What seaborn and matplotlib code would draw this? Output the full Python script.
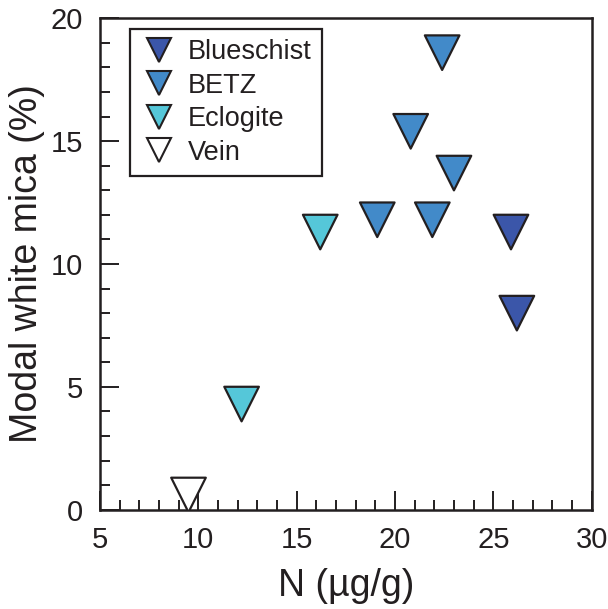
import pandas as pd
import numpy as np
import matplotlib
matplotlib.use('Agg')
import matplotlib.pyplot as plt
import seaborn as sns
from matplotlib.lines import Line2D
from matplotlib.ticker import MultipleLocator

# values
rock_type = ['Blueschist', 'Blueschist', 'BETZ', 'BETZ', 'BETZ', 'BETZ', 'BETZ',
             'Eclogite', 'Eclogite', 'Vein']
nitrogen = [25.9, 26.2, 22.4, 20.8, 23.0, 19.1, 21.9, 16.2, 12.2, 9.5]
white_mica = [11.3, 8.0, 18.6, 15.4, 13.7, 11.8, 11.8, 11.3, 4.3, 0.6]

groups = ['Blueschist', 'BETZ', 'Eclogite', 'Vein']
colors = {'Blueschist': '#3B56A9', 'BETZ': '#428AC9', 'Eclogite': '#55C7D9', 'Vein': '#FFFFFF'}

df = pd.DataFrame({'rock': rock_type, 'N': nitrogen, 'mica': white_mica})

sns.set_theme(style='ticks')
plt.rcParams['font.family'] = ['Liberation Sans', 'DejaVu Sans']
ink = '#231F20'

fig = plt.figure(figsize=(6.08, 6.09), dpi=100)
ax = fig.add_axes([0.1645, 0.163, 0.8085, 0.807])

sns.scatterplot(data=df, x='N', y='mica', hue='rock', hue_order=groups, palette=colors,
                marker='v', s=620, edgecolor=ink, linewidth=1.6, legend=False, ax=ax, zorder=3)

ax.set_xlim(5, 30)
ax.set_ylim(0, 20)
ax.xaxis.set_major_locator(MultipleLocator(5))
ax.xaxis.set_minor_locator(MultipleLocator(1))
ax.yaxis.set_major_locator(MultipleLocator(5))
ax.yaxis.set_minor_locator(MultipleLocator(1))
ax.tick_params(which='both', direction='in', color=ink, width=1.4, top=False, right=False)
ax.tick_params(which='major', length=14, labelsize=21, pad=12, labelcolor=ink)
ax.tick_params(which='minor', length=7)
for sp in ax.spines.values():
    sp.set_color(ink)
    sp.set_linewidth(1.8)

ax.set_xlabel('N (µg/g)', fontsize=27, color=ink, labelpad=10)
ax.set_ylabel('Modal white mica (%)', fontsize=27, color=ink, labelpad=4)

handles = [Line2D([], [], linestyle='none', marker='v', markersize=17,
                  markerfacecolor=colors[g], markeredgecolor=ink, markeredgewidth=1.5, label=g)
           for g in groups]
leg = ax.legend(handles=handles, loc='upper left', bbox_to_anchor=(0.062, 0.978),
                fontsize=19.5, frameon=True, fancybox=False, framealpha=1, borderpad=0.37,
                labelspacing=0.28, handletextpad=0.35, handlelength=1.4, borderaxespad=0)
leg.get_frame().set_edgecolor(ink)
leg.get_frame().set_linewidth(1.6)
for t in leg.get_texts():
    t.set_color(ink)

fig.savefig('out.png', dpi=100)
